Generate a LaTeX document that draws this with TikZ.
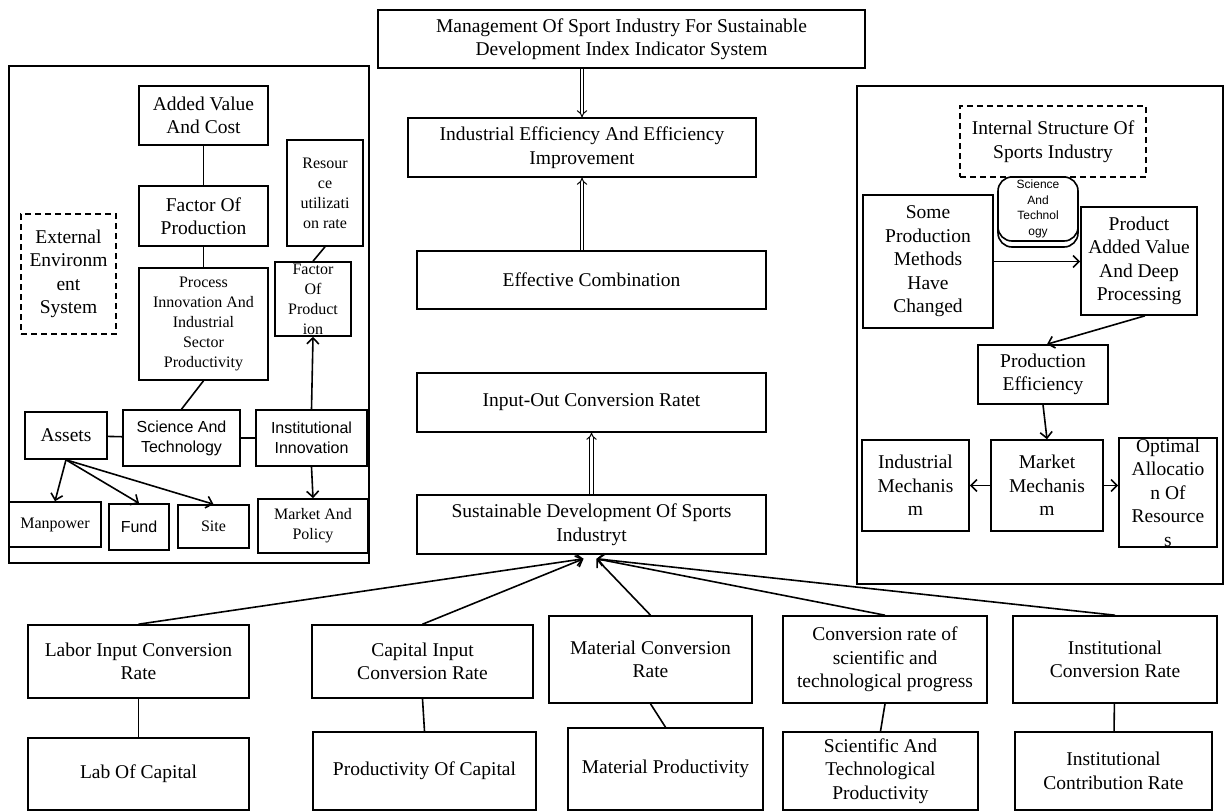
\documentclass[tikz,border=0pt]{standalone}
\usepackage{fontspec}
\setmainfont{Liberation Serif}
\newfontfamily\arialfont{Liberation Sans}
\usetikzlibrary{arrows.meta}

\newcommand{\bigserif}{\fontsize{19.5}{23.5}\selectfont}
\newcommand{\smallserif}{\fontsize{16}{20}\selectfont}
\newcommand{\smallsans}{\arialfont\fontsize{16}{20}\selectfont}
\newcommand{\tinysans}{\arialfont\fontsize{12}{15.5}\selectfont}

\begin{document}
\begin{tikzpicture}[x=1pt, y=-1pt,
    box/.style={draw, line width=1.6pt, align=center, inner sep=1pt, font=\bigserif},
    sz/.style 2 args={minimum width=#1pt, minimum height=#2pt},
    dashbox/.style={box, dash pattern=on 6pt off 4pt},
    panel/.style={draw, line width=1.1pt, inner sep=0pt},
    link/.style={line width=1.6pt},
    arr/.style={link, -{Straight Barb[length=6pt,width=12pt]}},
    dbl/.style={double, double distance=2.5pt, line width=1pt, -{Implies}}]
    \useasboundingbox (0,0) rectangle (1228,811);

    % Central chain
    \node[box, sz={487}{58}] (mgmt) at (621.5,39) {Management Of Sport Industry For Sustainable\\Development Index Indicator System};
    \node[box, sz={348}{59}] (ieff) at (582,147.5) {Industrial Efficiency And Efficiency\\Improvement};
    \node[box, sz={349}{58}] (effc) at (591.5,280) {Effective Combination};
    \node[box, sz={349}{59}] (ioconv) at (591.5,402.5) {Input-Out Conversion Ratet};
    \node[box, sz={349}{59}] (sust) at (591.5,524.5) {Sustainable Development Of Sports\\Industryt};

    \draw[dbl] (mgmt.south -| ieff.north) -- (ieff.north);
    \draw[dbl] (effc.north -| ieff.south) -- (ieff.south);
    \draw[dbl] (sust.north) -- (ioconv.south);

    % External environment panel
    \node[panel, sz={360}{497}] (leftpanel) at (189,314.5) {};
    \node[dashbox, sz={95}{120}] (external) at (68.5,274) {External\\Environm\\ent\\System};
    \node[box, sz={129}{59}] (added) at (203.5,115.5) {Added Value\\And Cost};
    \node[box, sz={129}{60}] (factor) at (203.5,216) {Factor Of\\Production};
    \node[box, sz={129}{112}, font=\smallserif] (process) at (203.5,324) {Process\\Innovation And\\Industrial\\Sector\\Productivity};
    \node[box, sz={76}{106}, font=\smallserif] (resource) at (325,193) {Resour\\ce\\utilizati\\on rate};
    \node[box, sz={76}{74}, inner sep=0pt, font=\smallserif] (factorb) at (313,299) {Factor\\Of\\Product\\ion};
    \node[box, sz={82}{47}] (assets) at (66,435.5) {Assets};
    \node[box, sz={117}{56}, font=\smallsans] (scitech) at (181.5,438) {Science And\\Technology};
    \node[box, sz={111}{56}, font=\smallsans] (instinn) at (311.5,438) {Institutional\\Innovation};
    \node[box, sz={92}{45}, font=\smallserif] (manpower) at (55,524.5) {Manpower};
    \node[box, sz={60}{46}, font=\smallsans] (fund) at (139,527) {Fund};
    \node[box, sz={71}{43}, font=\smallserif] (site) at (213.5,526.5) {Site};
    \node[box, sz={110}{54}, font=\smallserif] (market) at (313,526) {Market And\\Policy};

    \draw[link] (added) -- (factor);
    \draw[link] (factor) -- (process);
    \draw[link] (process.south) -- (scitech.north);
    \draw[link] (resource.south) -- (factorb.north);
    \draw[link] (assets) -- (scitech);
    \draw[link] (scitech) -- (instinn);
    \draw[arr] (instinn.north) -- (factorb.south);
    \draw[arr] (instinn.south) -- (market.north);
    \draw[arr] (assets.south) -- (manpower.north);
    \draw[arr] (assets.south) -- (fund.north);
    \draw[arr] (assets.south) -- (site.north);

    % Internal structure panel
    \node[panel, sz={366}{498}] (rightpanel) at (1040,335) {};
    \node[dashbox, sz={186}{71}] (internal) at (1053,141.5) {Internal Structure Of\\Sports Industry};
    \node[box, rounded corners=14pt, sz={80}{66}] (sciback) at (1038,214) {};
    \node[box, rounded corners=14pt, fill=white, sz={80}{64}, font=\tinysans] (scifront) at (1038,209) {Science\\And\\Technol\\ogy};
    \node[box, sz={130}{133}] (someprod) at (928,261.5) {Some\\Production\\Methods\\Have\\Changed};
    \node[box, sz={116}{108}] (product) at (1139,261) {Product\\Added Value\\And Deep\\Processing};
    \node[box, sz={130}{59}] (effcy) at (1043,374.5) {Production\\Efficiency};
    \node[box, sz={107}{91}] (indmech) at (915.5,485.5) {Industrial\\Mechanis\\m};
    \node[box, sz={112}{91}] (marmech) at (1047,485.5) {Market\\Mechanis\\m};
    \node[box, sz={98}{109}, inner sep=0pt] (optimal) at (1168,492.5) {Optimal\\Allocatio\\n Of\\Resource\\s};

    \draw[arr] (someprod.east) -- (someprod.east -| product.west);
    \draw[arr] ([xshift=6pt]product.south) -- ([xshift=4pt]effcy.north);
    \draw[arr] (effcy.south) -- (marmech.north);
    \draw[arr] (marmech.west) -- (indmech.east);
    \draw[arr] (marmech.east) -- (marmech.east -| optimal.west);

    % Conversion rates and productivities
    \node[box, sz={221}{73}] (labor) at (138.5,661.5) {Labor Input Conversion\\Rate};
    \node[box, sz={221}{72}] (labcap) at (138.5,774) {Lab Of Capital};
    \node[box, sz={221}{73}] (capin) at (422.5,661.5) {Capital Input\\Conversion Rate};
    \node[box, sz={223}{78}] (prodcap) at (424.5,771) {Productivity Of Capital};
    \node[box, sz={203}{87}] (matconv) at (650.5,659.5) {Material Conversion\\Rate};
    \node[box, sz={195}{82}] (matprod) at (665.5,769) {Material Productivity};
    \node[box, sz={204}{87}] (convsci) at (885,659.5) {Conversion rate of\\scientific and\\technological progress};
    \node[box, sz={195}{78}] (stprod) at (880.5,771) {Scientific And\\Technological\\Productivity};
    \node[box, sz={204}{87}] (instconv) at (1115,659.5) {Institutional\\Conversion Rate};
    \node[box, sz={197}{78}] (instcon) at (1113.5,771) {Institutional\\Contribution Rate};

    \coordinate (hubL) at ([xshift=-8pt,yshift=-4pt]sust.south);
    \coordinate (hubR) at ([xshift=5pt,yshift=-4pt]sust.south);
    \draw[arr] (labor.north) -- (hubL);
    \draw[arr] (capin.north) -- (hubL);
    \draw[arr] (matconv.north) -- (hubR);
    \draw[arr] (convsci.north) -- (hubR);
    \draw[arr] (instconv.north) -- (hubR);

    \draw[link] (labor) -- (labcap);
    \draw[link] (capin.south) -- (prodcap.north);
    \draw[link] (matconv.south) -- (matprod.north);
    \draw[link] (convsci.south) -- (stprod.north);
    \draw[link] (instconv) -- (instcon);
\end{tikzpicture}
\end{document}
